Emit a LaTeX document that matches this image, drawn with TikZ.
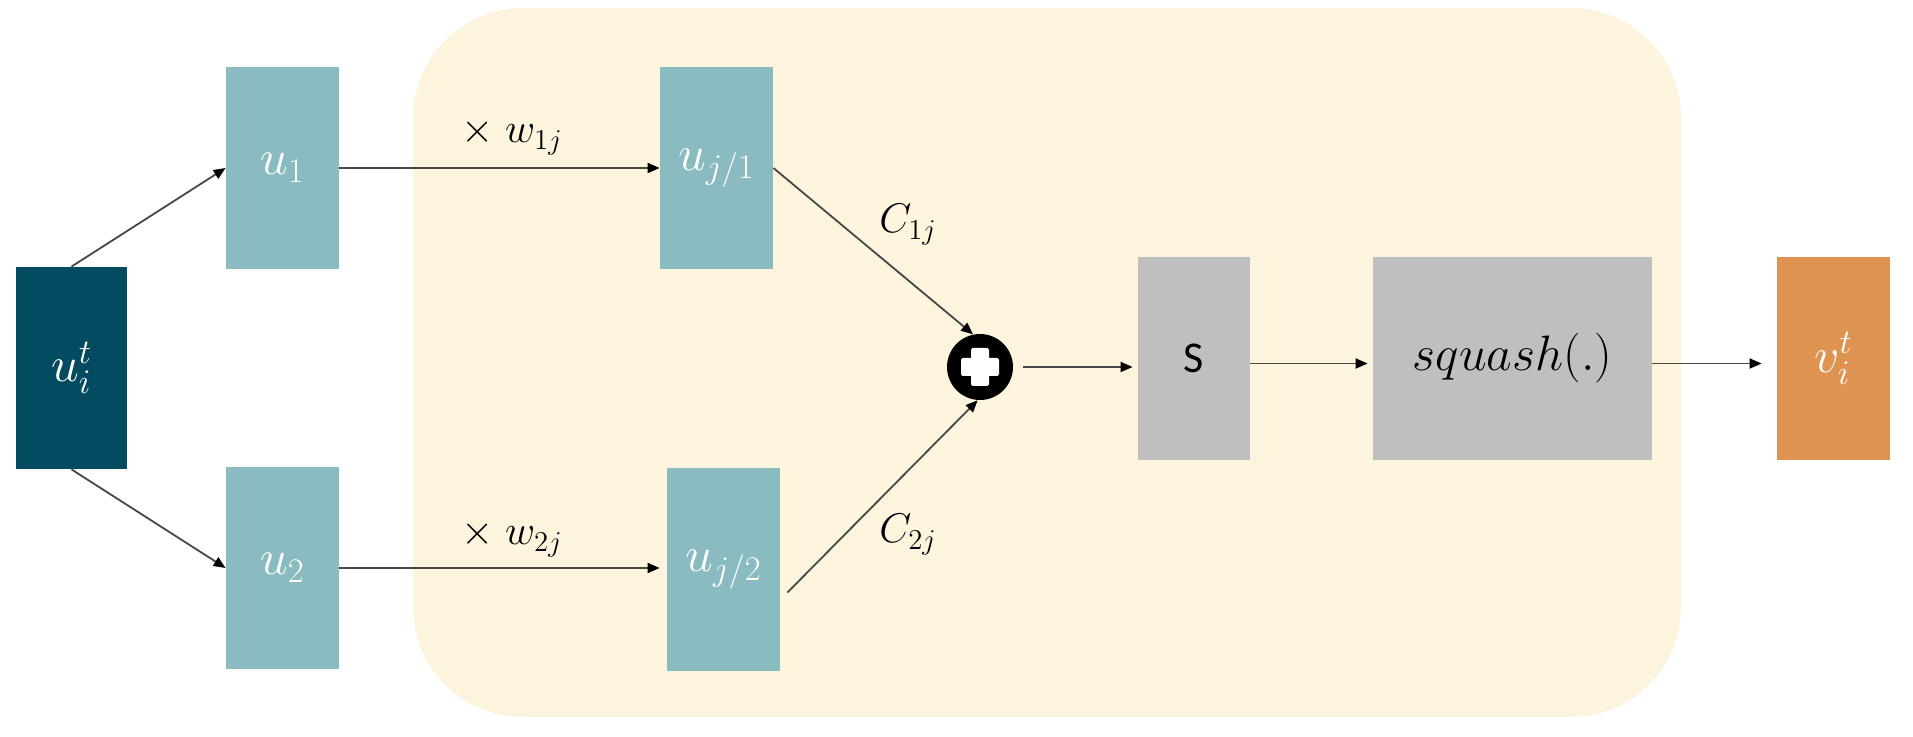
\documentclass[tikz,border=0pt]{standalone}
\usepackage{fontspec}
\newfontfamily\carlito{Carlito}
\usetikzlibrary{arrows.meta}
\definecolor{deepteal}{RGB}{2,75,96}
\definecolor{lightteal}{RGB}{138,187,192}
\definecolor{creambg}{RGB}{253,244,222}
\definecolor{boxgray}{RGB}{191,191,191}
\definecolor{boxorange}{RGB}{222,147,80}
\begin{document}
\begin{tikzpicture}[x=0.5pt,y=-0.5pt,
  blk/.style={inner sep=0pt, minimum width=56.5pt, minimum height=101pt,
    text=white, font=\fontsize{23}{27}\selectfont},
  arr/.style={draw=black!72, line width=0.9pt,
    -{Triangle[length=6pt,width=5pt,color=black]}},
  lbl/.style={font=\fontsize{22}{26}\selectfont, anchor=base, inner sep=0pt, text=black}]
\useasboundingbox (0,0) rectangle (1913,737);
\fill[white] (0,0) rectangle (1913,737);
% background region
\fill[creambg, rounded corners=55pt] (413,8) rectangle (1681,717);
% boxes
\node[blk, fill=deepteal, minimum width=55.5pt] (ui) at (71.5,368) {$u_i^t$};
\node[blk, fill=lightteal] (u1) at (282.5,168) {$u_1$};
\node[blk, fill=lightteal] (u2) at (282.5,568) {$u_2$};
\node[blk, fill=lightteal] (uj1) at (716.5,168) {$u_{j/1}$};
\node[blk, fill=lightteal] (uj2) at (723.5,569.5) {$u_{j/2}$};
\node[blk, fill=boxgray, text=black, minimum width=56pt, minimum height=101.5pt,
  font=\carlito\fontsize{22}{26}\selectfont] (S) at (1194,358.5) {S};
\node[blk, fill=boxgray, text=black, minimum width=139.5pt, minimum height=101.5pt,
  font=\fontsize{25}{29}\selectfont] (sq) at (1512.5,358.5) {$squash(.)$};
\node[blk, fill=boxorange, minimum height=101.5pt] (v) at (1833.5,358.5) {$v_i^t$};
% summation circle
\node[circle, fill=black, inner sep=0pt, minimum size=33pt] (plus) at (980,367) {};
\fill[white, rounded corners=0.8pt] ([shift={(-19,-9)}]plus.center) rectangle ([shift={(19,9)}]plus.center);
\fill[white, rounded corners=0.8pt] ([shift={(-9,-19)}]plus.center) rectangle ([shift={(9,19)}]plus.center);
% connectors
\draw[arr] (ui.north) -- (u1.west);
\draw[arr] (ui.south) -- (u2.west);
\draw[arr] (u1.east) -- (uj1.west);
\draw[arr, shorten >=3.5pt] (u2.east) -- (u2.east -| uj2.west);
\draw[arr] (uj1.east) -- (plus.102);
\draw[arr] ([xshift=3.5pt,yshift=-11.5pt]uj2.east) -- (plus.-94);
\draw[arr, shorten >=2.5pt] ([xshift=5pt]plus.east) -- (plus.east -| S.west);
\draw[arr, shorten >=2.5pt] ([yshift=-2.5pt]S.east) -- ([yshift=-2.5pt]sq.west);
\draw[arr, shorten >=7.5pt] ([yshift=-2.5pt]sq.east) -- ([yshift=-2.5pt]v.west);
% labels
\node[lbl] (w1) at (512,143) {$\times\; w_{1j}$};
\node[lbl] (w2) at (512,545) {$\times\; w_{2j}$};
\node[lbl] (c1) at (908,233) {$C_{1j}$};
\node[lbl] (c2) at (908,543) {$C_{2j}$};
\end{tikzpicture}
\end{document}
